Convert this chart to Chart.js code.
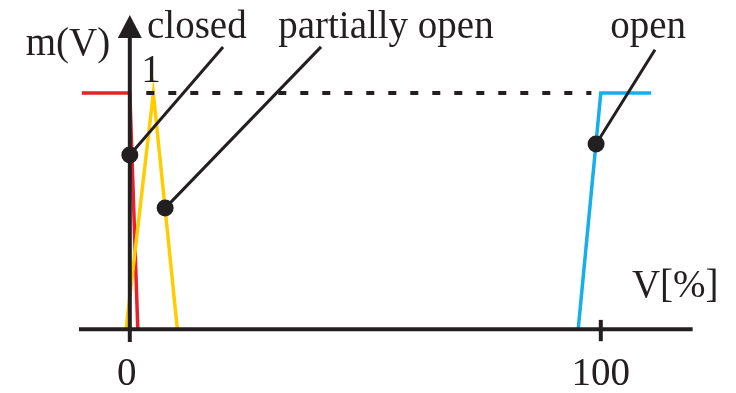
<!DOCTYPE html>
<html>
<head>
<meta charset="utf-8">
<script src="https://cdn.jsdelivr.net/npm/chart.js@4.4.1/dist/chart.umd.min.js"></script>
<style>
  html, body { margin: 0; padding: 0; background: #fff; }
  #wrap { width: 736px; height: 393px; }
</style>
</head>
<body>
<div id="wrap"><canvas id="chart"></canvas></div>
<script>
// membership functions, V in %, m(V) in 0..1
const closedX = [-10.2, 0, 1.7];
const closedY = [1, 1, 0];
const partialX = [-0.8, 5, 10.1];
const partialY = [0, 1, 0];
const openX = [95.2, 100, 110.7];
const openY = [0, 1, 1];
// dashed reference at m = 1
const refX = [3.5, 98];
const refY = [1, 1];
// leader lines from curve (dot) to label
const closedLeaderX = [0, 19.8];
const closedLeaderY = [0.738, 1.195];
const partialLeaderX = [7.5, 40.6];
const partialLeaderY = [0.513, 1.195];
const openLeaderX = [99.0, 111.5];
const openLeaderY = [0.784, 1.183];
// ticks
const tickValues = [0, 100];
const tickLabels = ["0", "100"];
const seriesNames = ["closed", "partially open", "open"];

const ink = "#231f20";
const font = "39px 'Liberation Serif', 'DejaVu Serif', serif";

const pts = (xs, ys) => xs.map((x, i) => ({ x: x, y: ys[i] }));

const curve = (data, color) => ({
  data: data,
  borderColor: color,
  borderWidth: 3.5,
  pointRadius: 0,
  fill: false,
  tension: 0,
  order: 3,
});

const leader = (data) => ({
  data: data,
  borderColor: ink,
  backgroundColor: ink,
  borderWidth: 3,
  pointRadius: [8.5, 0],
  pointBorderWidth: 0,
  fill: false,
  order: 1,
});

const axesAndText = {
  id: "axesAndText",
  afterDatasetsDraw(chart) {
    const ctx = chart.ctx;
    const x = chart.scales.x;
    const y = chart.scales.y;
    const x0 = x.getPixelForValue(0);
    const y0 = y.getPixelForValue(0);
    ctx.save();
    ctx.strokeStyle = ink;
    ctx.fillStyle = ink;
    ctx.lineWidth = 4;
    // x axis
    ctx.beginPath();
    ctx.moveTo(x.getPixelForValue(-10.8), y0);
    ctx.lineTo(x.getPixelForValue(119.5), y0);
    ctx.stroke();
    // tick at 100
    ctx.beginPath();
    ctx.moveTo(x.getPixelForValue(100), y.getPixelForValue(0.04));
    ctx.lineTo(x.getPixelForValue(100), y.getPixelForValue(-0.05));
    ctx.stroke();
    // y axis with arrow
    const tipY = y.getPixelForValue(1.33);
    ctx.beginPath();
    ctx.moveTo(x0, y.getPixelForValue(-0.053));
    ctx.lineTo(x0, tipY + 20);
    ctx.stroke();
    ctx.beginPath();
    ctx.moveTo(x0, tipY);
    ctx.lineTo(x0 - 12, tipY + 23);
    ctx.lineTo(x0 + 12, tipY + 23);
    ctx.closePath();
    ctx.fill();

    ctx.font = font;
    ctx.textBaseline = "alphabetic";
    ctx.textAlign = "center";
    tickValues.forEach((v, i) => {
      ctx.fillText(tickLabels[i], x.getPixelForValue(v) - (v === 0 ? 3 : 0), y.getPixelForValue(-0.235));
    });
    ctx.fillText("1", x.getPixelForValue(4.5), y.getPixelForValue(1.047));
    ctx.textAlign = "left";
    ctx.fillText("m(V)", x.getPixelForValue(-22.1), y.getPixelForValue(1.161));
    ctx.fillText("V[%]", x.getPixelForValue(106.6), y.getPixelForValue(0.137));
    ctx.fillText(seriesNames[0], x.getPixelForValue(3.65), y.getPixelForValue(1.233));
    ctx.fillText(seriesNames[1], x.getPixelForValue(31.5), y.getPixelForValue(1.233));
    ctx.fillText(seriesNames[2], x.getPixelForValue(102), y.getPixelForValue(1.233));
    ctx.restore();
  },
};

new Chart(document.getElementById("chart"), {
  type: "line",
  data: {
    datasets: [
      leader(pts(closedLeaderX, closedLeaderY)),
      leader(pts(partialLeaderX, partialLeaderY)),
      leader(pts(openLeaderX, openLeaderY)),
      {
        data: pts(refX, refY),
        borderColor: ink,
        borderWidth: 4,
        borderDash: [8, 14],
        pointRadius: 0,
        order: 2,
      },
      curve(pts(partialX, partialY), "#ffcc00"),
      curve(pts(closedX, closedY), "#e8202a"),
      curve(pts(openX, openY), "#17afe8"),
    ],
  },
  options: {
    responsive: true,
    maintainAspectRatio: false,
    animation: false,
    layout: { padding: { left: 78, right: 41, top: 15, bottom: 40 } },
    plugins: { legend: { display: false }, tooltip: { enabled: false } },
    scales: {
      x: { type: "linear", min: -11, max: 120, display: false },
      y: { type: "linear", min: -0.1, max: 1.33, display: false },
    },
  },
  plugins: [axesAndText],
});
</script>
</body>
</html>
